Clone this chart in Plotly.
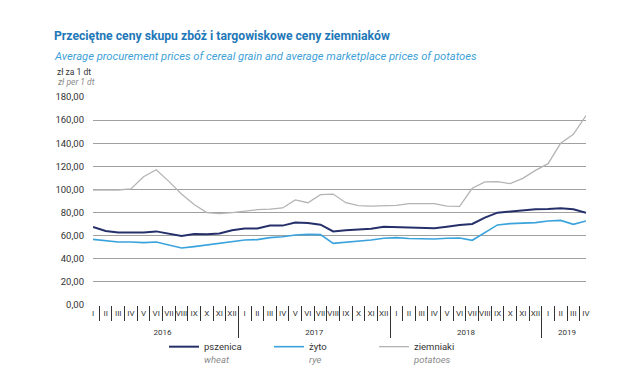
import plotly.graph_objects as go

years = ["2016"] * 12 + ["2017"] * 12 + ["2018"] * 12 + ["2019"] * 4
roman = ["I", "II", "III", "IV", "V", "VI", "VII", "VIII", "IX", "X", "XI", "XII"]
months = roman * 3 + roman[:4]

wheat = [67.5, 64.0, 62.8, 62.5, 62.8, 63.7, 62.0, 59.7, 61.5, 61.2, 61.8, 64.6,
         66.2, 66.3, 68.7, 68.7, 71.3, 71.0, 69.5, 63.7, 64.6, 65.2, 66.0, 67.8,
         67.5, 66.7, 67.0, 66.5, 67.8, 69.3, 70.1, 75.6, 79.9, 81.0, 82.2, 82.8,
         83.1, 83.7, 82.8, 79.9]
rye = [56.8, 55.4, 54.5, 54.5, 54.0, 54.5, 52.0, 49.3, 50.5, 52.0, 53.7, 55.0,
       56.2, 56.6, 58.3, 59.1, 60.6, 61.1, 60.9, 53.3, 54.2, 55.4, 56.3, 57.7,
       58.3, 57.5, 57.2, 57.1, 57.7, 58.0, 56.0, 62.6, 69.3, 70.4, 71.0, 71.3,
       72.7, 73.2, 69.8, 72.7]
potatoes = [99.5, 99.2, 99.5, 100.5, 111.0, 117.0, 107.0, 96.0, 87.0, 80.0, 79.0, 80.0,
            81.5, 82.5, 83.0, 84.0, 91.0, 88.5, 95.5, 96.0, 88.5, 86.0, 85.5, 86.0,
            86.3, 87.7, 88.0, 87.7, 85.5, 85.4, 101.0, 106.5, 106.8, 105.0, 109.6, 116.5,
            122.3, 140.0, 147.7, 164.0]

series_pl = ["pszenica", "żyto", "ziemniaki"]
series_en = ["wheat", "rye", "potatoes"]
colors = ["#25306a", "#3aa3dc", "#b4b4b4"]
widths = [2, 1.6, 1.3]

y_ticks = [0, 20, 40, 60, 80, 100, 120, 140, 160, 180]

FONT = "Roboto, 'Open Sans', sans-serif"

# year labels sit one line lower, below the month boxes
year_labels = ["<br>" + y for y in years]

fig = go.Figure()
for pl, en, vals, c, w in zip(series_pl, series_en, [wheat, rye, potatoes], colors, widths):
    fig.add_trace(go.Scatter(
        x=[year_labels, months], y=vals, mode="lines",
        name=f"{pl}<br><span style='color:#8a8a8a'><i>{en}</i></span>",
        line=dict(color=c, width=w),
    ))

fig.update_layout(
    width=640, height=391,
    margin=dict(l=85, r=62, t=89, b=94),
    paper_bgcolor="white", plot_bgcolor="white",
    separators=", ",
    font=dict(family=FONT, size=9, color="#333333"),
    showlegend=True,
    legend=dict(orientation="h", x=(156 - 85) / 493, xanchor="left",
                y=(297 - 326) / 208, yanchor="top",
                valign="top", entrywidth=60, entrywidthmode="pixels",
                font=dict(size=9.5, color="#333333"), bgcolor="rgba(0,0,0,0)"),
    xaxis=dict(type="multicategory", showgrid=False, showline=False, zeroline=False,
               ticks="outside", tickson="boundaries", ticklen=15, tickcolor="#333333",
               tickwidth=1, ticklabelstandoff=2, tickangle=0,
               showdividers=True, dividercolor="#333333", dividerwidth=1,
               tickfont=dict(size=8, color="#333333"), automargin=False),
    yaxis=dict(range=[0, 180], tickvals=y_ticks, tickformat=".2f",
               showgrid=True, gridcolor="#a0a0a0", gridwidth=1,
               zeroline=False, showline=False, ticks="", ticklabelstandoff=8,
               tickfont=dict(size=9.5, color="#333333"), automargin=False),
)

annots = [
    dict(text="<b>Przeciętne ceny skupu zbóż i targowiskowe ceny ziemniaków</b>",
         x=(44 - 85) / 493, y=(297 - 28) / 208, font=dict(size=12.2, color="#1f78b8")),
    dict(text="<i>Average procurement prices of cereal grain and average marketplace prices of potatoes</i>",
         x=(44 - 85) / 493, y=(297 - 48) / 208, font=dict(size=11.2, color="#3e9fd8")),
    dict(text="zł za 1 dt", x=(47 - 85) / 493, y=(297 - 64) / 208,
         font=dict(size=8.5, color="#333333")),
    dict(text="<i>zł per 1 dt</i>", x=(47 - 85) / 493, y=(297 - 74) / 208,
         font=dict(size=8.5, color="#8a8a8a")),
]
for a in annots:
    fig.add_annotation(xref="paper", yref="paper", xanchor="left", yanchor="middle",
                       align="left", showarrow=False, **a)

fig.write_html("out.html")
